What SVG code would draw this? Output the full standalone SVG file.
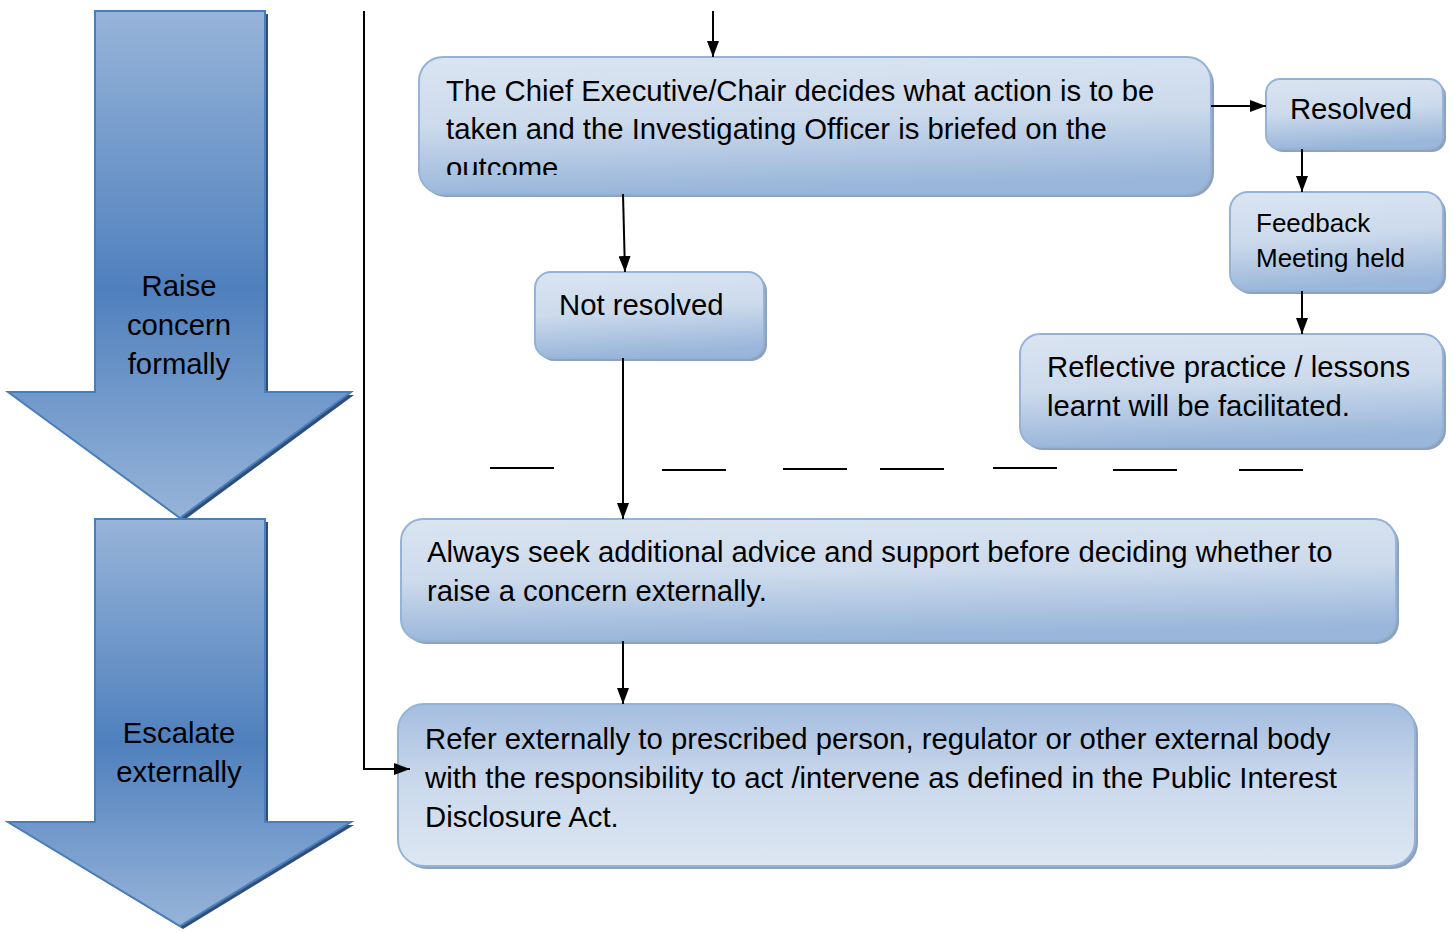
<svg xmlns="http://www.w3.org/2000/svg" width="1455" height="933" viewBox="0 0 1455 933">
<defs>
<linearGradient id="arrowGrad" x1="0" y1="0" x2="0" y2="1">
<stop offset="0" stop-color="#97b4d9"/>
<stop offset="0.55" stop-color="#4f80bd"/>
<stop offset="1" stop-color="#97b4d9"/>
</linearGradient>
<linearGradient id="boxA" x1="0" y1="0" x2="0.15" y2="1">
<stop offset="0" stop-color="#dbe5f1"/>
<stop offset="0.5" stop-color="#ccdaec"/>
<stop offset="1" stop-color="#9ab6da"/>
</linearGradient>
<linearGradient id="boxB" x1="0" y1="0" x2="0" y2="1">
<stop offset="0" stop-color="#a4bddf"/>
<stop offset="0.5" stop-color="#cbd9ec"/>
<stop offset="1" stop-color="#dde7f3"/>
</linearGradient>
<marker id="ah" viewBox="0 0 16 12" refX="16" refY="6" markerWidth="16" markerHeight="12" markerUnits="userSpaceOnUse" orient="auto">
<path d="M0,0 L16,6 L0,12 z" fill="#000"/>
</marker>
<clipPath id="clip1"><rect x="419" y="57" width="792" height="118"/></clipPath>
</defs>
<style>
.box{stroke:#95b3d7;stroke-width:2}
.shadow{fill:#8ea2bd}
.t{font-family:"Liberation Sans",Arial,sans-serif;font-size:29.3px;fill:#000}
.ts{font-family:"Liberation Sans",Arial,sans-serif;font-size:26px;fill:#000}
.bigarrow{fill:url(#arrowGrad);stroke:#4a7ebb;stroke-width:2}
.bashadow{fill:#2f4f7a}
.conn{stroke:#000;stroke-width:2;fill:none}
.dash{stroke:#000;stroke-width:2}
</style>
<rect width="1455" height="933" fill="#fff"/>

<g id="arrow-raise">
<path class="bashadow" d="M98,14 L268,14 L268,395 L354,395 L183,521 L12,395 L98,395 z"/>
<path class="bigarrow" d="M95,11 L265,11 L265,392 L351,392 L180,518 L8,392 L95,392 z"/>
<text class="t" text-anchor="middle"><tspan x="179" y="296">Raise</tspan><tspan x="179" y="335">concern</tspan><tspan x="179" y="374">formally</tspan></text>
</g>

<g id="arrow-escalate">
<path class="bashadow" d="M98,522 L268,522 L268,825 L354,825 L183,929 L12,825 L98,825 z"/>
<path class="bigarrow" d="M95,519 L265,519 L265,822 L351,822 L180,926 L8,822 L95,822 z"/>
<text class="t" text-anchor="middle"><tspan x="179" y="743">Escalate</tspan><tspan x="179" y="782">externally</tspan></text>
</g>

<g id="node-chief">
<rect class="shadow" x="422" y="60" width="792" height="137" rx="24"/>
<rect class="box" x="419" y="57" width="792" height="137" rx="24" fill="url(#boxA)"/>
<text class="t" clip-path="url(#clip1)"><tspan x="446" y="101">The Chief Executive/Chair decides what action is to be</tspan><tspan x="446" y="139">taken and the Investigating Officer is briefed on the</tspan><tspan x="446" y="178">outcome</tspan></text>
</g>

<g id="node-resolved">
<rect class="shadow" x="1269" y="82" width="177" height="70" rx="14"/>
<rect class="box" x="1266" y="79" width="177" height="70" rx="14" fill="url(#boxA)"/>
<text class="t" x="1351" y="119" text-anchor="middle">Resolved</text>
</g>

<g id="node-feedback">
<rect class="shadow" x="1233" y="195" width="213" height="99" rx="18"/>
<rect class="box" x="1230" y="192" width="213" height="99" rx="18" fill="url(#boxA)"/>
<text class="ts"><tspan x="1256" y="232">Feedback</tspan><tspan x="1256" y="267">Meeting held</tspan></text>
</g>

<g id="node-reflective">
<rect class="shadow" x="1023" y="337" width="423" height="113" rx="20"/>
<rect class="box" x="1020" y="334" width="423" height="113" rx="20" fill="url(#boxA)"/>
<text class="t"><tspan x="1047" y="377">Reflective practice / lessons</tspan><tspan x="1047" y="416">learnt will be facilitated.</tspan></text>
</g>

<g id="node-notresolved">
<rect class="shadow" x="538" y="275" width="229" height="86" rx="16"/>
<rect class="box" x="535" y="272" width="229" height="86" rx="16" fill="url(#boxA)"/>
<text class="t" x="559" y="315">Not resolved</text>
</g>

<g id="node-advice">
<rect class="shadow" x="404" y="522" width="995" height="122" rx="22"/>
<rect class="box" x="401" y="519" width="995" height="122" rx="22" fill="url(#boxA)"/>
<text class="t"><tspan x="427" y="562">Always seek additional advice and support before deciding whether to</tspan><tspan x="427" y="601">raise a concern externally.</tspan></text>
</g>

<g id="node-refer">
<rect class="shadow" x="401" y="707" width="1017" height="162" rx="26"/>
<rect class="box" x="398" y="704" width="1017" height="162" rx="26" fill="url(#boxB)"/>
<text class="t"><tspan x="425" y="749">Refer externally to prescribed person, regulator or other external body</tspan><tspan x="425" y="788">with the responsibility to act /intervene as defined in the Public Interest</tspan><tspan x="425" y="827">Disclosure Act.</tspan></text>
</g>

<g id="connectors">
<path class="conn" d="M364,11 L364,769 L410,769" marker-end="url(#ah)"/>
<path class="conn" d="M713,11 L713,57" marker-end="url(#ah)"/>
<path class="conn" d="M1211,106 L1266,106" marker-end="url(#ah)"/>
<path class="conn" d="M1302,149 L1302,192" marker-end="url(#ah)"/>
<path class="conn" d="M1302,291 L1302,334" marker-end="url(#ah)"/>
<path class="conn" d="M623,194 L625,272" marker-end="url(#ah)"/>
<path class="conn" d="M623,358 L623,519" marker-end="url(#ah)"/>
<path class="conn" d="M623,641 L623,704" marker-end="url(#ah)"/>
<g id="dashes">
<line class="dash" x1="490" y1="468" x2="554" y2="468"/>
<line class="dash" x1="662" y1="470" x2="726" y2="470"/>
<line class="dash" x1="783" y1="469" x2="847" y2="469"/>
<line class="dash" x1="880" y1="469" x2="944" y2="469"/>
<line class="dash" x1="993" y1="468" x2="1057" y2="468"/>
<line class="dash" x1="1113" y1="470" x2="1177" y2="470"/>
<line class="dash" x1="1239" y1="470" x2="1303" y2="470"/>
</g>
</g>
</svg>
